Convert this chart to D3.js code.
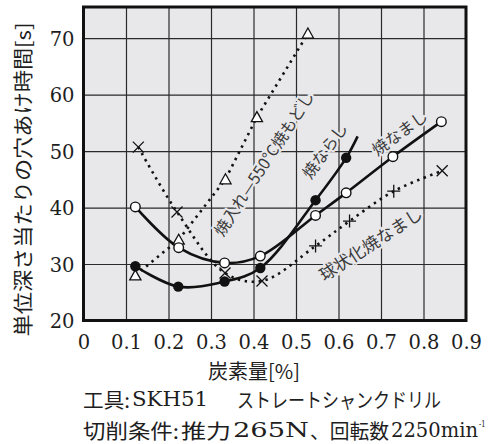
<!DOCTYPE html>
<html>
<head>
<meta charset="utf-8">
<script src="https://cdn.jsdelivr.net/npm/d3@7"></script>
<style>
  html, body { margin: 0; padding: 0; background: #fff; }
  svg { display: block; }
</style>
</head>
<body>
<svg id="chart" width="488" height="444"></svg>
<script>
// Carbon content [%] and drilling time per unit depth [s] for each heat treatment
const annealC = [0.122, 0.224, 0.332, 0.416, 0.546, 0.618, 0.728, 0.842];
const annealT = [40.1, 32.9, 30.2, 31.4, 38.6, 42.6, 49.0, 55.2];

const normalC = [0.122, 0.223, 0.332, 0.416, 0.546, 0.618];
const normalT = [29.6, 26.0, 26.9, 29.3, 41.3, 48.8];
const normalTailC = 0.645;   // fitted curve continues past the last specimen
const normalTailT = 52.6;

const temperC = [0.122, 0.224, 0.334, 0.408, 0.528];
const temperT = [28.0, 34.3, 45.0, 56.0, 70.8];

const spheroC = [0.129, 0.220, 0.333, 0.420, 0.546, 0.626, 0.730, 0.844];
const spheroT = [50.7, 39.2, 28.4, 27.0, 33.2, 37.6, 42.9, 46.5];
const spheroMark = ["x", "x", "x", "x", "+", "+", "+", "x"];

const xTicks = [0, 0.1, 0.2, 0.3, 0.4, 0.5, 0.6, 0.7, 0.8, 0.9];
const yTicks = [20, 30, 40, 50, 60, 70];

const labelAnneal = "焼なまし";
const labelNormal = "焼ならし";
const labelTemper = "焼入れ—550°C焼もどし";
const labelSphero = "球状化焼なまし";
const xTitle = "炭素量[%]";
const yTitle = "単位深さ当たりの穴あけ時間[s]";

const svg = d3.select("#chart");
const plotBg = "#e8e8ea";
const serif = "DejaVu Serif, Liberation Serif, serif";
const jp = "Noto Sans CJK JP, Noto Sans, sans-serif";
const ink = "#1e1e1e";

const x = d3.scaleLinear().domain([0, 0.9]).range([83.5, 466]);
const y = d3.scaleLinear().domain([20, 75.5]).range([320.5, 7]);

// plot area
svg.append("rect")
  .attr("x", x(0)).attr("y", y(75.5))
  .attr("width", x(0.9) - x(0)).attr("height", y(20) - y(75.5))
  .attr("fill", plotBg);

// grid
const gx = svg.append("g")
  .attr("transform", `translate(0,${y(20)})`)
  .call(d3.axisBottom(x).tickValues(xTicks.slice(1, -1)).tickSize(-(y(20) - y(75.5))).tickFormat(""));
gx.select(".domain").remove();
gx.selectAll("line").attr("stroke", "#2a2a2a").attr("stroke-width", 1.2);

const gy = svg.append("g")
  .attr("transform", `translate(${x(0)},0)`)
  .call(d3.axisLeft(y).tickValues(yTicks.slice(1)).tickSize(-(x(0.9) - x(0))).tickFormat(""));
gy.select(".domain").remove();
gy.selectAll("line").attr("stroke", "#2a2a2a").attr("stroke-width", 1.2);

// tick labels
const ax = svg.append("g")
  .attr("transform", `translate(0,${y(20)})`)
  .call(d3.axisBottom(x).tickValues(xTicks).tickSize(0)
    .tickFormat(d => d === 0 ? "0" : d3.format(".1f")(d)));
ax.select(".domain").remove();
ax.selectAll("text")
  .attr("y", 28).attr("dy", null)
  .style("font-family", serif).style("font-size", "19.5px").style("fill", ink);

const ay = svg.append("g")
  .attr("transform", `translate(${x(0)},0)`)
  .call(d3.axisLeft(y).tickValues(yTicks).tickSize(0).tickFormat(d3.format("d")));
ay.select(".domain").remove();
ay.selectAll("text")
  .attr("x", -9).attr("dy", "0.36em")
  .style("font-family", serif).style("font-size", "19.5px").style("fill", ink);

// series labels (under the curves, with a halo over the grid)
function label(text, cx, cy, angle, size) {
  svg.append("text")
    .attr("transform", `translate(${cx},${cy}) rotate(${angle})`)
    .attr("text-anchor", "middle").attr("dominant-baseline", "central")
    .style("font-family", jp).style("font-size", size + "px").style("fill", "#3a3a3a")
    .attr("stroke", plotBg).attr("stroke-width", 4).attr("paint-order", "stroke")
    .text(text);
}
label(labelTemper, 263, 163, -57, 16);
label(labelNormal, 324, 150, -54, 16);
label(labelAnneal, 399, 132, -36, 16);
label(labelSphero, 370, 243, -33, 17);

const smooth = d3.line().x(d => x(d[0])).y(d => y(d[1])).curve(d3.curveCatmullRom.alpha(0.5));
const straight = d3.line().x(d => x(d[0])).y(d => y(d[1]));

const annealPts = d3.zip(annealC, annealT);
const normalPts = d3.zip(normalC, normalT);
const temperPts = d3.zip(temperC, temperT);
const spheroPts = d3.zip(spheroC, spheroT);

// dotted curves
svg.append("path").attr("d", straight(temperPts))
  .attr("fill", "none").attr("stroke", "#111").attr("stroke-width", 2.6)
  .attr("stroke-dasharray", "2.4 4.6");
svg.append("path").attr("d", smooth(spheroPts))
  .attr("fill", "none").attr("stroke", "#111").attr("stroke-width", 2.6)
  .attr("stroke-dasharray", "2.4 4.6");

// solid curves
svg.append("path").attr("d", smooth(annealPts))
  .attr("fill", "none").attr("stroke", "#111").attr("stroke-width", 2.6);
svg.append("path").attr("d", smooth(normalPts.concat([[normalTailC, normalTailT]])))
  .attr("fill", "none").attr("stroke", "#111").attr("stroke-width", 2.6);

// markers
svg.append("g").selectAll("path").data(temperPts).join("path")
  .attr("transform", d => `translate(${x(d[0])},${y(d[1]) + 0.5})`)
  .attr("d", "M0,-6 L5.6,4 L-5.6,4 Z")
  .attr("fill", "#fff").attr("stroke", "#111").attr("stroke-width", 1.3);

svg.append("g").selectAll("path").data(spheroPts).join("path")
  .attr("transform", d => `translate(${x(d[0])},${y(d[1])})`)
  .attr("d", (d, i) => spheroMark[i] === "x"
    ? "M-5.5,-5.5 L5.5,5.5 M-5.5,5.5 L5.5,-5.5"
    : "M-6.5,0 L6.5,0 M0,-6.5 L0,6.5")
  .attr("fill", "none").attr("stroke", "#111").attr("stroke-width", 1.3);

svg.append("g").selectAll("circle").data(annealPts).join("circle")
  .attr("cx", d => x(d[0])).attr("cy", d => y(d[1])).attr("r", 4.8)
  .attr("fill", "#fff").attr("stroke", "#111").attr("stroke-width", 1.4);

svg.append("g").selectAll("circle").data(normalPts).join("circle")
  .attr("cx", d => x(d[0])).attr("cy", d => y(d[1])).attr("r", 5.2)
  .attr("fill", "#111");

// frame
svg.append("rect")
  .attr("x", x(0)).attr("y", y(75.5))
  .attr("width", x(0.9) - x(0)).attr("height", y(20) - y(75.5))
  .attr("fill", "none").attr("stroke", "#111").attr("stroke-width", 3);

// axis titles
svg.append("text")
  .attr("x", 254).attr("y", 370)
  .attr("text-anchor", "middle").attr("dominant-baseline", "central")
  .style("font-family", jp).style("font-size", "20px").style("fill", ink)
  .text(xTitle);

svg.append("text")
  .attr("transform", `translate(22,179.5) rotate(-90)`)
  .attr("text-anchor", "middle").attr("dominant-baseline", "central")
  .attr("textLength", 314).attr("lengthAdjust", "spacingAndGlyphs")
  .style("font-family", jp).style("font-size", "20.5px").style("fill", ink)
  .text(yTitle);

// notes under the chart: [text, x start, width, font, superscript]
const note1 = [
  ["工具:", 83, 47, jp],
  ["SKH51", 132, 76, serif],
  ["ストレートシャンクドリル", 237, 204, jp]
];
const note2 = [
  ["切削条件:", 83, 96, jp],
  ["推力", 181, 50, jp],
  ["265N", 233, 76, serif],
  ["、回転数", 310, 79, jp],
  ["2250min", 391, 87, serif],
  ["-1", 479, 6.5, serif, true]
];

function note(parts, yc) {
  const t = svg.append("text").attr("y", yc).attr("dominant-baseline", "central")
    .style("font-size", "20px").style("fill", ink);
  parts.forEach(p => {
    t.append("tspan")
      .attr("x", p[1]).attr("y", p[4] ? yc - 7 : yc)
      .attr("textLength", p[2]).attr("lengthAdjust", "spacingAndGlyphs")
      .style("font-family", p[3]).style("font-size", p[4] ? "10px" : "20px")
      .text(p[0]);
  });
}
note(note1, 399);
note(note2, 430);
</script>
</body>
</html>
